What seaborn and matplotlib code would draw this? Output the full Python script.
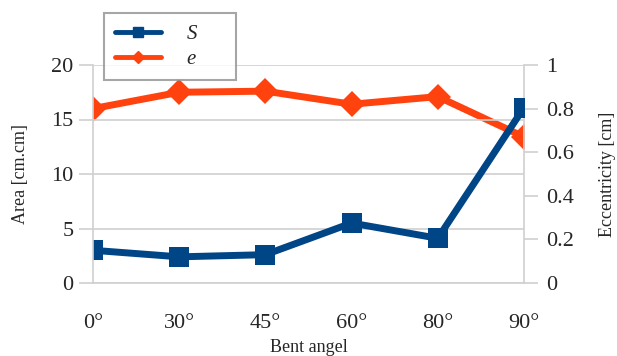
import numpy as np
import pandas as pd
import seaborn as sns
import matplotlib.pyplot as plt
from matplotlib.lines import Line2D

angles = ['0°', '30°', '45°', '60°', '80°', '90°']
area_S = [3.0, 2.4, 2.6, 5.5, 4.1, 16.1]
ecc_e = [0.80, 0.875, 0.88, 0.82, 0.855, 0.67]

blue = '#004586'
orange = '#ff420e'
grid_c = '#d0d0d0'

sns.set_style('white')
plt.rcParams['font.family'] = ['Liberation Serif', 'DejaVu Serif']

df = pd.DataFrame({'pos': np.arange(len(angles)), 'S': area_S, 'e': ecc_e})

fig = plt.figure(figsize=(6.17, 3.56), dpi=100)
ax = fig.add_axes([93 / 617, 1 - 283 / 356, (524 - 93) / 617, (283 - 65) / 356])
ax2 = ax.twinx()

sns.lineplot(x='pos', y='e', data=df, ax=ax2, color=orange, lw=5,
             marker='D', markersize=13, markeredgewidth=0)
sns.lineplot(x='pos', y='S', data=df, ax=ax, color=blue, lw=5,
             marker='s', markersize=15, markeredgewidth=0)

ax.set_zorder(ax2.get_zorder() + 1)
ax.patch.set_visible(False)

ax.set_xlim(0, len(angles) - 1)
ax.set_ylim(0, 20)
ax2.set_ylim(0, 1)
ax.set_yticks([0, 5, 10, 15, 20])
ax2.set_yticks([0, 0.2, 0.4, 0.6, 0.8, 1])
ax2.set_yticklabels(['0', '0.2', '0.4', '0.6', '0.8', '1'])
ax.set_xticks(df['pos'])
ax.set_xticklabels(angles)

ax.yaxis.grid(True, color=grid_c, lw=1.2)
ax.set_axisbelow(True)
for a in (ax, ax2):
    for s in a.spines.values():
        s.set_visible(False)
ax.spines['left'].set_visible(True)
ax.spines['left'].set_color(grid_c)
ax.spines['bottom'].set_visible(True)
ax.spines['bottom'].set_color(grid_c)
ax2.spines['right'].set_visible(True)
ax2.spines['right'].set_color(grid_c)
for s in ('left', 'bottom'):
    ax.spines[s].set_linewidth(1.2)
ax2.spines['right'].set_linewidth(1.2)

ax.tick_params(axis='both', length=10, width=1.2, color=grid_c, labelsize=16, pad=4)
ax.tick_params(axis='x', pad=12)
ax2.tick_params(axis='y', length=10, width=1.2, color=grid_c, labelsize=16, pad=6)

ax.set_xlabel('Bent angel', fontsize=13, labelpad=5)
ax.set_ylabel('Area [cm.cm]', fontsize=13, labelpad=16)
ax2.set_ylabel('Eccentricity [cm]', fontsize=13, labelpad=18)

handles = [Line2D([], [], color=blue, lw=3.5, marker='s', markersize=7),
           Line2D([], [], color=orange, lw=3.5, marker='D', markersize=6)]
fig.legend(handles, ['S     ', 'e     '], loc='upper left',
           bbox_to_anchor=(104 / 617, 1 - 13 / 356), borderaxespad=0,
           prop={'family': 'Liberation Serif', 'style': 'italic', 'size': 15},
           frameon=True, fancybox=False, edgecolor='#909090',
           handlelength=2.2, borderpad=0.55, labelspacing=0.25,
           handletextpad=1.25)
fig.legends[0].get_frame().set_linewidth(1.5)

fig.savefig('out.png', dpi=100)
